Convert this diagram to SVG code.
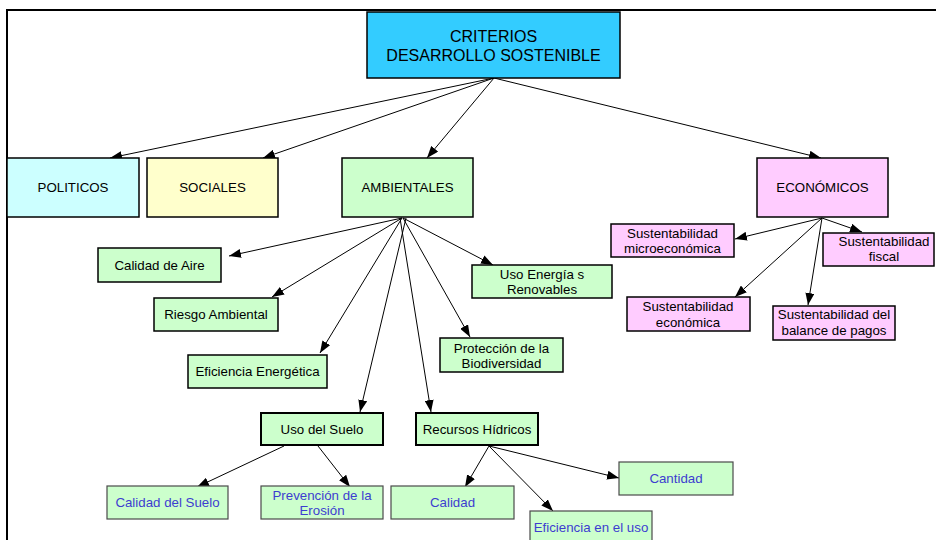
<svg xmlns="http://www.w3.org/2000/svg" width="936" height="540" viewBox="0 0 936 540">
<style>
text{font-family:"Liberation Sans",Arial,sans-serif;font-size:13.3px;text-anchor:middle;fill:#000}
.big{font-size:16px}
.blue{fill:#3d3dd0}
.b{stroke:#000;stroke-width:1.5}
.bt{stroke:#000;stroke-width:2}
.bl{stroke:#4a4a4a;stroke-width:1.2}
.g{fill:#ccffcc}
.p{fill:#ffccff}
.c{stroke:#000;stroke-width:1;fill:none;marker-end:url(#ah)}
</style>
<defs>
<marker id="ah" markerWidth="12" markerHeight="9" refX="12" refY="4.5" orient="auto" markerUnits="userSpaceOnUse">
<path d="M0,0 L12,4.5 L0,9 Z" fill="#000"/>
</marker>
</defs>
<rect width="936" height="540" fill="#fff"/>
<path d="M7,540 V10 H936" fill="none" stroke="#000" stroke-width="2"/>
<g id="connectors">
<line class="c" x1="494" y1="78" x2="110" y2="158"/>
<line class="c" x1="494" y1="78" x2="263" y2="158"/>
<line class="c" x1="494" y1="78" x2="427" y2="158"/>
<line class="c" x1="494" y1="78" x2="821" y2="158"/>
<line class="c" x1="402" y1="218" x2="229" y2="256"/>
<line class="c" x1="402" y1="218" x2="272" y2="297"/>
<line class="c" x1="402" y1="218" x2="320" y2="353"/>
<line class="c" x1="406" y1="218" x2="360" y2="412"/>
<line class="c" x1="400" y1="218" x2="431" y2="412"/>
<line class="c" x1="403" y1="218" x2="470" y2="337"/>
<line class="c" x1="403" y1="218" x2="493" y2="265"/>
<line class="c" x1="822" y1="218" x2="735" y2="239"/>
<line class="c" x1="822" y1="218" x2="862" y2="232"/>
<line class="c" x1="822" y1="218" x2="735" y2="297"/>
<line class="c" x1="822" y1="218" x2="808" y2="305"/>
<line class="c" x1="284" y1="446" x2="197" y2="487"/>
<line class="c" x1="318" y1="446" x2="350" y2="487"/>
<line class="c" x1="489" y1="446" x2="465" y2="487"/>
<line class="c" x1="489" y1="446" x2="553" y2="511"/>
<line class="c" x1="489" y1="446" x2="619" y2="478"/>
</g>
<g id="criterios"><rect x="367" y="12" width="253" height="66" fill="#33ccff" class="b"/><text class="big" x="493.5" y="42">CRITERIOS</text><text class="big" x="493.5" y="61">DESARROLLO SOSTENIBLE</text></g>
<g id="politicos"><rect x="7" y="158" width="132" height="59" fill="#ccffff" class="b"/><text x="73" y="192">POLITICOS</text></g>
<g id="sociales"><rect x="147" y="158" width="131" height="59" fill="#ffffcc" class="b"/><text x="212.5" y="192">SOCIALES</text></g>
<g id="ambientales"><rect x="342" y="158" width="131" height="59" class="g b"/><text x="407.5" y="192">AMBIENTALES</text></g>
<g id="economicos"><rect x="757" y="158" width="131" height="59" class="p b"/><text x="822.5" y="192">ECONÓMICOS</text></g>
<g id="calidad-aire"><rect x="98" y="248" width="123" height="34" class="g b"/><text x="159.5" y="270">Calidad de Aire</text></g>
<g id="riesgo"><rect x="154" y="298" width="124" height="33" class="g b"/><text x="216" y="319">Riesgo Ambiental</text></g>
<g id="eficiencia-energetica"><rect x="188" y="355" width="139" height="33" class="g b"/><text x="257.5" y="376">Eficiencia Energética</text></g>
<g id="uso-energias"><rect x="472" y="265" width="140" height="33" class="g b"/><text x="542" y="279">Uso Energía s</text><text x="542" y="294">Renovables</text></g>
<g id="proteccion"><rect x="440" y="338" width="123" height="34" class="g b"/><text x="501.5" y="353">Protección de la</text><text x="501.5" y="368">Biodiversidad</text></g>
<g id="micro"><rect x="611" y="224" width="123" height="33" class="p b"/><text x="672.5" y="238">Sustentabilidad</text><text x="672.5" y="253">microeconómica</text></g>
<g id="fiscal"><rect x="823" y="233" width="111" height="33" class="p b"/><text x="884" y="246">Sustentabilidad</text><text x="884" y="261">fiscal</text></g>
<g id="economica"><rect x="627" y="297" width="123" height="34" class="p b"/><text x="688" y="311">Sustentabilidad</text><text x="688" y="327">económica</text></g>
<g id="balance"><rect x="773" y="306" width="122" height="34" class="p b"/><text x="834" y="319">Sustentabilidad del</text><text x="834" y="335">balance de pagos</text></g>
<g id="uso-suelo"><rect x="261" y="413" width="122" height="32" class="g bt"/><text x="322" y="434">Uso del Suelo</text></g>
<g id="recursos"><rect x="416" y="413" width="122" height="32" class="g bt"/><text x="477" y="434">Recursos Hídricos</text></g>
<g id="calidad-suelo"><rect x="107" y="486" width="121" height="33" class="g bl"/><text class="blue" x="167.5" y="507">Calidad del Suelo</text></g>
<g id="prevencion"><rect x="261" y="486" width="122" height="33" class="g bl"/><text class="blue" x="322" y="500">Prevención de la</text><text class="blue" x="322" y="515">Erosión</text></g>
<g id="calidad"><rect x="391" y="486" width="123" height="33" class="g bl"/><text class="blue" x="452.5" y="507">Calidad</text></g>
<g id="cantidad"><rect x="619" y="462" width="114" height="33" class="g bl"/><text class="blue" x="676" y="483">Cantidad</text></g>
<g id="eficiencia-uso"><rect x="530" y="511" width="122" height="34" class="g bl"/><text class="blue" x="591" y="532">Eficiencia en el uso</text></g>
</svg>
